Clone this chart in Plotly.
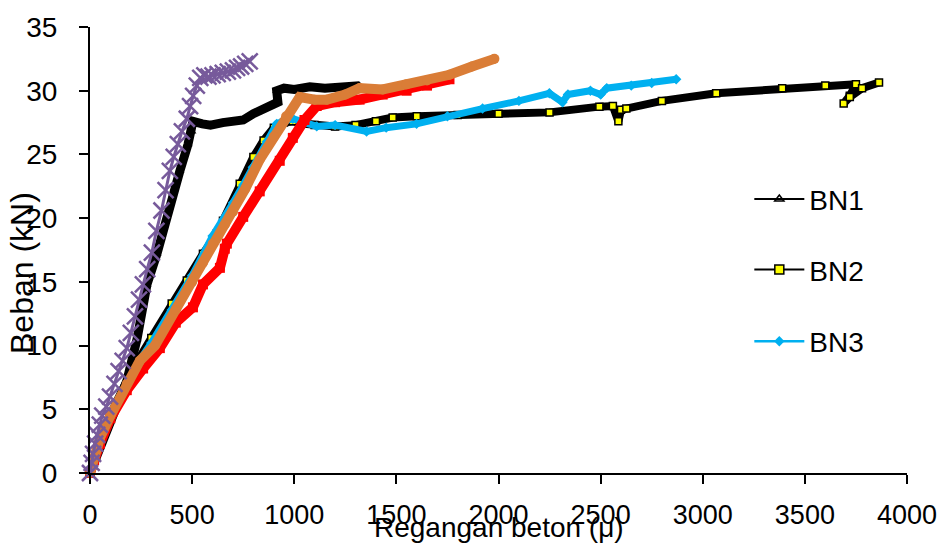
import plotly.graph_objects as go

# ---- data ----
bn1_x = [0, 30, 64, 120, 180, 230, 279, 328, 380, 440, 480, 499, 504, 550, 590, 650, 700, 750, 800, 850, 895, 920, 914, 950, 1000, 1076, 1150, 1250, 1320]
bn1_y = [0, 1.2, 2.8, 5.0, 7.2, 10.5, 14.8, 17.2, 20.5, 23.7, 25.8, 26.8, 27.6, 27.4, 27.3, 27.5, 27.6, 27.7, 28.2, 28.6, 28.9, 29.1, 30.0, 30.2, 30.1, 30.3, 30.2, 30.3, 30.4]

bn2_x = [0, 50, 100, 200, 300, 400, 474, 553, 621, 651, 733, 800, 850, 900, 950, 993, 1050, 1100, 1200, 1300, 1400, 1482, 1600, 1800, 2000, 2250, 2494, 2560, 2587, 2600, 2626, 2800, 3066, 3389, 3600, 3750, 3720, 3690, 3720, 3780, 3863]
bn2_y = [0, 2.6, 4.6, 7.9, 10.6, 13.3, 15.1, 17.2, 18.8, 19.8, 22.7, 24.8, 26.1, 27.1, 27.5, 27.6, 27.4, 27.3, 27.2, 27.3, 27.6, 27.9, 28.0, 28.1, 28.2, 28.3, 28.75, 28.8, 27.6, 28.5, 28.6, 29.2, 29.8, 30.2, 30.4, 30.5, 29.6, 29.0, 29.5, 30.2, 30.65]

bn3_x = [0, 50, 100, 200, 300, 400, 500, 600, 650, 700, 750, 797, 865, 914, 944, 993, 1110, 1200, 1354, 1450, 1599, 1750, 1922, 2100, 2249, 2313, 2340, 2450, 2500, 2530, 2650, 2750, 2870]
bn3_y = [0, 2.6, 4.6, 7.8, 10.2, 12.8, 15.5, 18.6, 19.8, 21.2, 22.6, 24.0, 26.0, 27.4, 27.6, 27.8, 27.2, 27.3, 26.8, 27.1, 27.4, 28.0, 28.6, 29.2, 29.8, 29.1, 29.7, 30.0, 29.7, 30.2, 30.4, 30.6, 30.9]

bn4_x = [0, 8, 15, 25, 35, 48, 60, 80, 98, 120, 140, 160, 180, 200, 220, 240, 259, 280, 303, 325, 350, 370, 391, 410, 430, 450, 474, 490, 505, 523, 540, 560, 580, 600, 625, 650, 675, 700, 720, 740, 760, 782]
bn4_y = [0, 0.8, 1.5, 2.3, 3.0, 3.8, 4.5, 5.2, 6.0, 7.0, 8.0, 8.8, 9.8, 11.0, 12.3, 13.6, 14.8, 16.0, 17.3, 19.0, 20.6, 22.2, 23.7, 24.8, 25.8, 26.8, 27.8, 28.8, 29.6, 30.4, 31.0, 31.2, 31.1, 31.2, 31.3, 31.4, 31.5, 31.6, 31.8, 31.9, 32.1, 32.3]

bn5_x = [0, 20, 49, 100, 180, 260, 342, 420, 504, 553, 636, 660, 670, 750, 831, 929, 993, 1050, 1110, 1200, 1320, 1433, 1550, 1650, 1760]
bn5_y = [0, 1.0, 2.3, 4.3, 6.5, 8.2, 9.8, 11.8, 13.0, 14.8, 16.1, 17.6, 18.0, 20.1, 22.1, 24.5, 26.3, 27.7, 28.8, 29.1, 29.3, 29.7, 30.0, 30.4, 30.9]

bn6_x = [0, 20, 50, 100, 180, 244, 318, 420, 500, 553, 601, 660, 700, 760, 831, 900, 960, 1027, 1100, 1159, 1250, 1320, 1433, 1550, 1650, 1760, 1870, 1980]
bn6_y = [0, 1.2, 2.8, 4.5, 7.0, 8.8, 10.0, 12.8, 15.0, 16.5, 18.0, 19.5, 20.5, 22.3, 24.6, 26.4, 28.0, 29.5, 29.3, 29.3, 29.7, 30.2, 30.1, 30.5, 30.8, 31.25, 31.9, 32.5]

x_ticks = [0, 500, 1000, 1500, 2000, 2500, 3000, 3500, 4000]
y_ticks = [0, 5, 10, 15, 20, 25, 30, 35]

x_title = "Regangan beton (μ)"
y_title = "Beban (kN)"

PURPLE = "#775A9B"
ORANGE = "#DA7D37"
RED = "#FF0000"
CYAN = "#00B0F0"
FONT = "Liberation Sans, Arial, sans-serif"

fig = go.Figure()

# BN2 (black line, yellow squares)
fig.add_trace(go.Scatter(x=bn2_x, y=bn2_y, mode="lines+markers", showlegend=False, cliponaxis=False,
                         line=dict(color="black", width=8),
                         marker=dict(symbol="square", size=7, color="#FFFF00", line=dict(color="black", width=1.5))))
# BN3 (cyan)
fig.add_trace(go.Scatter(x=bn3_x, y=bn3_y, mode="lines+markers", showlegend=False, cliponaxis=False,
                         line=dict(color=CYAN, width=7),
                         marker=dict(symbol="diamond", size=8, color=CYAN)))
# BN1 (black, triangles)
fig.add_trace(go.Scatter(x=bn1_x, y=bn1_y, mode="lines+markers", showlegend=False, cliponaxis=False,
                         line=dict(color="black", width=9),
                         marker=dict(symbol="triangle-up", size=8, color="black")))
# red series
fig.add_trace(go.Scatter(x=bn5_x, y=bn5_y, mode="lines+markers", showlegend=False, cliponaxis=False,
                         line=dict(color=RED, width=10),
                         marker=dict(symbol="square", size=10, color=RED)))
# orange series
fig.add_trace(go.Scatter(x=bn6_x, y=bn6_y, mode="lines+markers", showlegend=False, cliponaxis=False,
                         line=dict(color=ORANGE, width=10),
                         marker=dict(symbol="circle", size=10, color=ORANGE)))
# purple series
fig.add_trace(go.Scatter(x=bn4_x, y=bn4_y, mode="lines+markers", showlegend=False, cliponaxis=False,
                         line=dict(color=PURPLE, width=3),
                         marker=dict(symbol="x-thin", size=16, line=dict(color=PURPLE, width=2.5))))

# legend entries
leg_font = dict(family=FONT, size=28, color="black")
fig.add_trace(go.Scatter(x=[None], y=[None], name="BN1", mode="lines+markers", legend="legend",
                         line=dict(color="black", width=2),
                         marker=dict(symbol="triangle-up-open", size=8, color="black", line=dict(width=1.5))))
fig.add_trace(go.Scatter(x=[None], y=[None], name="BN2", mode="lines+markers", legend="legend2",
                         line=dict(color="black", width=2),
                         marker=dict(symbol="square", size=9, color="#FFFF00", line=dict(color="black", width=1.5))))
fig.add_trace(go.Scatter(x=[None], y=[None], name="BN3", mode="lines+markers", legend="legend3",
                         line=dict(color=CYAN, width=2.5),
                         marker=dict(symbol="diamond", size=8, color=CYAN)))

def leg(y):
    return dict(x=0.807, y=y, xanchor="left", yanchor="middle", font=leg_font,
                bgcolor="rgba(0,0,0,0)", itemwidth=50, tracegroupgap=0)

fig.update_layout(
    width=949, height=546,
    margin=dict(l=90, r=41, t=25, b=73),
    paper_bgcolor="white", plot_bgcolor="white",
    font=dict(family=FONT, color="black"),
    legend=leg((473 - 198) / 448),
    legend2=leg((473 - 269) / 448),
    legend3=leg((473 - 341) / 448),
    xaxis=dict(range=[0, 4000], tickvals=x_ticks, ticktext=[str(v) for v in x_ticks],
               showgrid=False, zeroline=False, showline=True, linecolor="black", linewidth=2,
               ticks="outside", ticklen=9, tickwidth=2, tickcolor="black",
               tickfont=dict(family=FONT, size=27, color="black"), ticklabelstandoff=8),
    yaxis=dict(range=[0, 35], tickvals=y_ticks, ticktext=[str(v) for v in y_ticks],
               showgrid=False, zeroline=False, showline=True, linecolor="black", linewidth=2,
               ticks="outside", ticklen=9, tickwidth=2, tickcolor="black",
               tickfont=dict(family=FONT, size=28, color="black"), ticklabelstandoff=16),
    annotations=[
        dict(text=x_title, xref="paper", yref="paper", x=(500 - 90) / 818, y=-(528 - 473) / 448,
             xanchor="center", yanchor="middle", showarrow=False,
             font=dict(family=FONT, size=28, color="black")),
        dict(text=y_title, xref="paper", yref="paper", x=-(90 - 22) / 818, y=(473 - 272) / 448,
             xanchor="center", yanchor="middle", showarrow=False, textangle=-90,
             font=dict(family=FONT, size=32, color="black")),
    ],
)

fig.write_html("out.html", config={"displayModeBar": False},
               post_script="document.body.style.margin='0px';document.body.style.overflow='hidden';")
